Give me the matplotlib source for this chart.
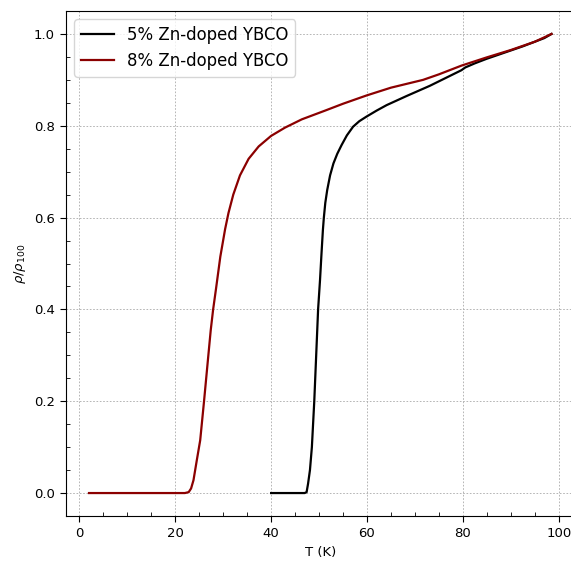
import matplotlib
matplotlib.use("Agg")
import matplotlib.pyplot as plt

# 5% Zn-doped YBCO
T5 = [40.0, 42.0, 44.0, 46.0, 47.0, 47.4, 47.7, 48.1, 48.5, 49.0, 49.4, 49.8,
      50.2, 50.5, 50.8, 51.0, 51.3, 51.7, 52.3, 53.0, 53.8, 54.7, 55.8, 57.1,
      58.4, 59.9, 62.0, 64.1, 66.2, 68.3, 70.7, 73.1, 76.4, 79.7, 80.5, 82.5,
      85.0, 87.5, 90.0, 92.5, 95.0, 97.0, 98.5]
R5 = [0.0, 0.0, 0.0, 0.0, 0.0, 0.002, 0.02, 0.05, 0.1, 0.2, 0.3, 0.4,
      0.464, 0.52, 0.573, 0.6, 0.632, 0.66, 0.692, 0.718, 0.739, 0.758, 0.779, 0.798,
      0.81, 0.82, 0.833, 0.845, 0.855, 0.865, 0.876, 0.887, 0.904, 0.921, 0.927, 0.936,
      0.946, 0.955, 0.964, 0.973, 0.983, 0.991, 1.0]

# 8% Zn-doped YBCO
T8 = [2.0, 5.0, 8.0, 11.0, 14.0, 17.0, 20.0, 22.0, 22.8, 23.3, 23.8, 24.5,
      25.2, 26.0, 26.9, 27.4, 27.9, 28.5, 29.4, 30.4, 31.1, 32.1, 33.5, 35.3,
      37.4, 40.0, 42.9, 46.4, 51.25, 55.0, 59.9, 65.0, 71.7, 75.0, 79.7, 85.0,
      90.0, 95.0, 98.5]
R8 = [0.0, 0.0, 0.0, 0.0, 0.0, 0.0, 0.0, 0.0, 0.002, 0.01, 0.028, 0.072,
      0.115, 0.2, 0.3, 0.355, 0.4, 0.445, 0.515, 0.575, 0.61, 0.65, 0.692, 0.728,
      0.755, 0.778, 0.796, 0.814, 0.833, 0.848, 0.866, 0.883, 0.9, 0.912, 0.931, 0.949,
      0.965, 0.983, 1.0]

fig = plt.figure(figsize=(5.71, 5.61), dpi=100)
ax = fig.add_axes([66 / 571, 45 / 561, 509 / 571, 505 / 561])

ax.plot(T5, R5, color="black", lw=1.6, label="5% Zn-doped YBCO")
ax.plot(T8, R8, color="darkred", lw=1.6, label="8% Zn-doped YBCO")

ax.set_xlim(-2.8, 103.4)
ax.set_ylim(-0.05, 1.05)
ax.set_xticks([0, 20, 40, 60, 80, 100])
ax.set_yticks([0.0, 0.2, 0.4, 0.6, 0.8, 1.0])
ax.minorticks_on()
ax.tick_params(which="major", direction="out", length=4.5, labelsize=9.5)
ax.tick_params(which="minor", direction="in", length=3)
ax.grid(which="major", color="#aaaaaa", linestyle=(0, (2, 2)), linewidth=0.6)
# the reference is cut off just before the right frame line
ax.spines["right"].set_visible(False)

ax.set_xlabel("T (K)", fontsize=9.5)
ax.set_ylabel(r"$\rho/\rho_{100}$", fontsize=9.5)
ax.legend(loc="upper left", fontsize=11.9)

fig.savefig("out.png", dpi=100)
